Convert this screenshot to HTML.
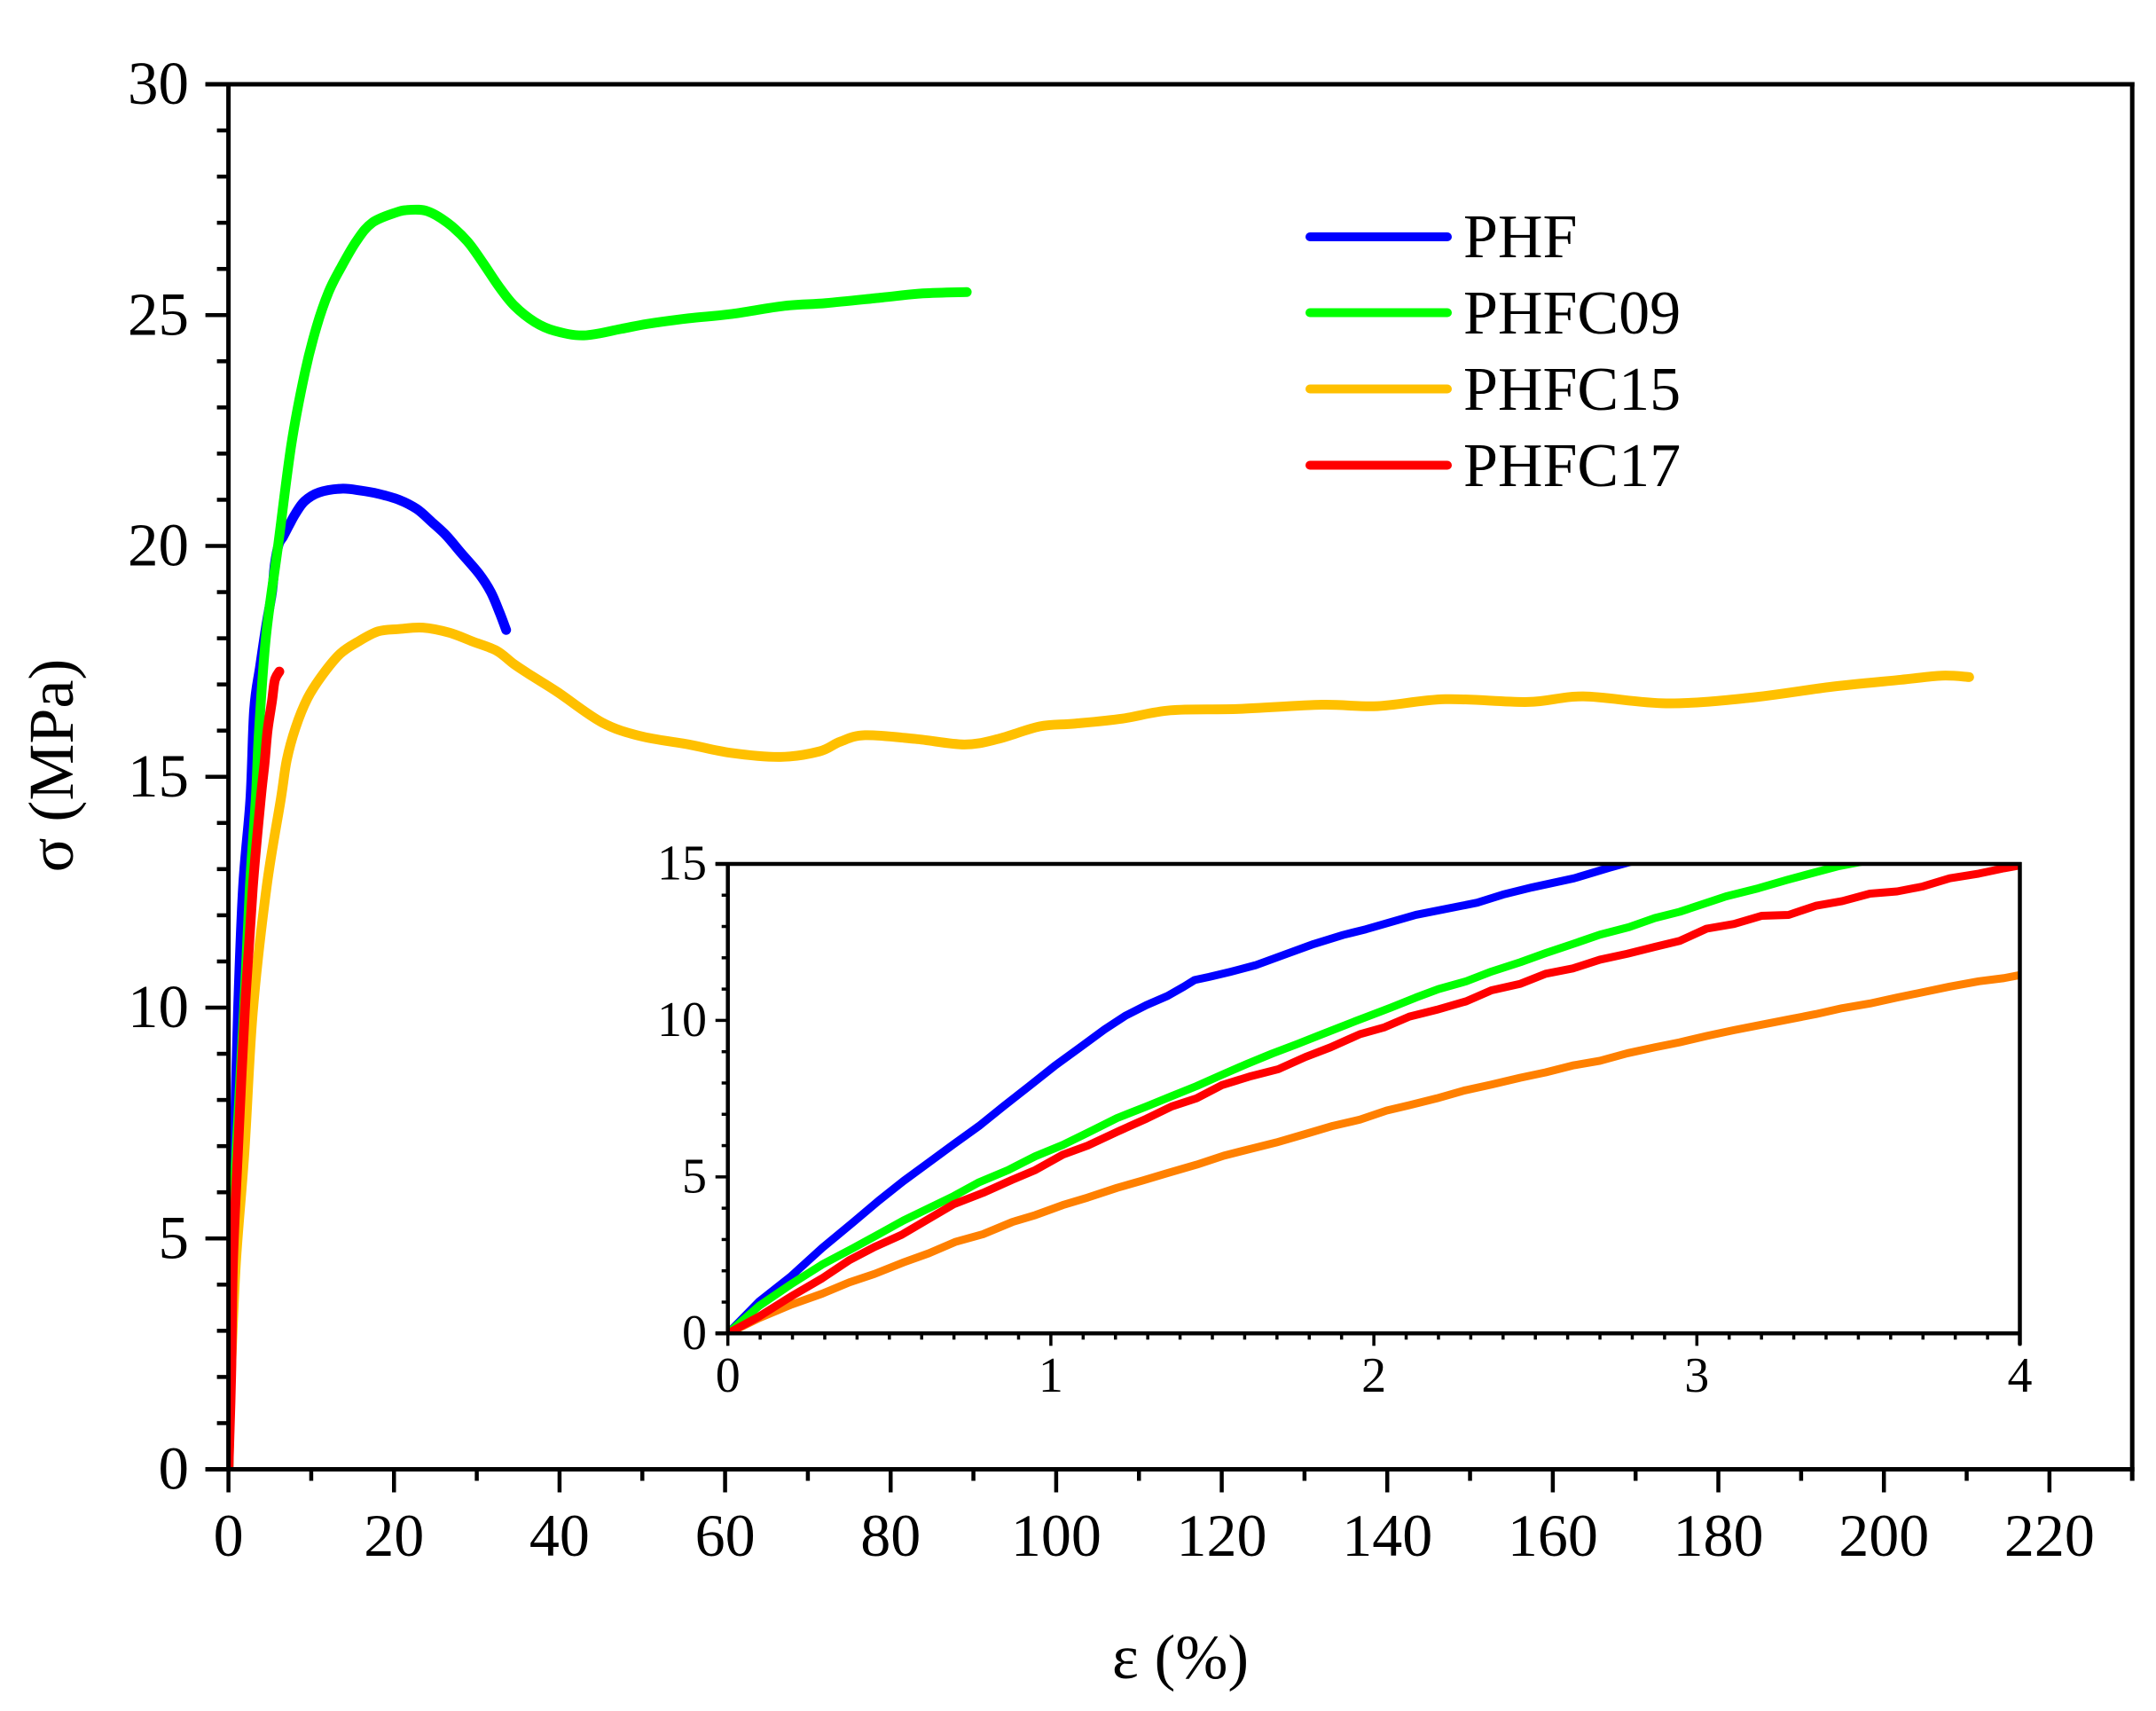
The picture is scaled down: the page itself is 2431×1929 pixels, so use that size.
<!DOCTYPE html>
<html lang="en">
<head>
<meta charset="utf-8">
<title>Stress-strain curves</title>
<style>
html,body{margin:0;padding:0;background:#fff;width:2431px;height:1929px;overflow:hidden}
svg{display:block}
text{font-family:"Liberation Serif","Times New Roman",serif;fill:#000}
</style>
</head>
<body>
<svg id="chart" xmlns="http://www.w3.org/2000/svg" width="2431" height="1929" viewBox="0 0 2431 1929">
  <defs>
    <clipPath id="main-clip"><rect id="main-clip-rect" x="0" y="0" width="0" height="0"></rect></clipPath>
    <clipPath id="inset-clip"><rect id="inset-clip-rect" x="0" y="0" width="0" height="0"></rect></clipPath>
  </defs>
  <rect x="0" y="0" width="2431" height="1929" fill="#fff"></rect>
  <g id="main-curves" clip-path="url(#main-clip)"></g>
  <g id="main-axes"></g>
  <g id="inset-curves" clip-path="url(#inset-clip)"></g>
  <g id="inset-axes"></g>
  <text x="1331" y="1892" font-size="71" text-anchor="middle">ε (%)</text>
  <text transform="translate(82,863) rotate(-90)" font-size="72" text-anchor="middle">σ (MPa)</text>
  <g>
    <line x1="1477" y1="267" x2="1632" y2="267" stroke="#0000ff" stroke-width="10" stroke-linecap="round"></line>
    <text x="1650" y="290" font-size="70">PHF</text>
    <line x1="1477" y1="352.5" x2="1632" y2="352.5" stroke="#00ff00" stroke-width="10" stroke-linecap="round"></line>
    <text x="1650" y="376" font-size="70">PHFC09</text>
    <line x1="1477" y1="438.5" x2="1632" y2="438.5" stroke="#ffc000" stroke-width="10" stroke-linecap="round"></line>
    <text x="1650" y="462" font-size="70">PHFC15</text>
    <line x1="1477" y1="524.5" x2="1632" y2="524.5" stroke="#ff0000" stroke-width="10" stroke-linecap="round"></line>
    <text x="1650" y="548" font-size="70">PHFC17</text>
  </g>
</svg>
<script>
// ----- main chart data -----
var mainXTicks = [0,20,40,60,80,100,120,140,160,180,200,220];
var mainXMinorTicks = [10,30,50,70,90,110,130,150,170,190,210,230];
var mainYTicks = [0,5,10,15,20,25,30];
var mainYMinorTicks = [1,2,3,4,6,7,8,9,11,12,13,14,16,17,18,19,21,22,23,24,26,27,28,29];

var mainPhfStrain = [0,0.44,0.72,1.15,1.76,2.65,3.1,3.83,4.54,5.26,5.6,6.08,6.6,7.33,8.1,9.2,10.97,13.65,15.97,18.1,20.6,22.76,24.55,26.3,28.1,30.26,31.7,32.75,33.55];
var mainPhfStress = [0,4.9,6.9,9.9,12.6,14.52,16.45,17.4,18.25,19.0,19.6,20.04,20.2,20.45,20.7,20.97,21.16,21.24,21.2,21.13,21.0,20.8,20.52,20.23,19.85,19.4,19.0,18.56,18.18];

var mainC09Strain = [0,0.47,0.97,1.86,2.58,3.3,3.69,4.54,5.97,7.6,9.23,10.65,12.1,13.5,15.45,17.36,20.2,21.9,24.05,26.45,28.85,30.75,32.67,34.55,37,39.4,42.95,47.4,50.6,55.6,60.6,67.2,72.2,78.9,83.9,89.2];
var mainC09Stress = [0,4.47,6.9,9.9,12.6,14.52,16.0,18.05,19.97,22.2,23.75,24.75,25.5,26.0,26.6,27.0,27.22,27.28,27.25,27.0,26.6,26.13,25.62,25.2,24.85,24.66,24.56,24.7,24.81,24.93,25.02,25.2,25.26,25.38,25.47,25.5];

var mainC15Strain = [0,0.3,0.9,1.94,2.94,4.6,6.33,7.04,8.1,9.55,11.33,13.47,15.6,18.1,20.6,23.5,26.7,29.5,32.4,34.5,36.7,39.8,45.1,49.8,55.6,60.6,66.7,71.4,73.9,76.9,83,88.9,93,98,102.2,108,113.8,122.1,132.1,138.8,147,157,163.7,173.7,183.7,193.7,202,207,210.3];
var mainC15Stress = [0,2.06,4.47,6.9,9.9,12.6,14.52,15.36,16.06,16.7,17.2,17.66,17.92,18.15,18.2,18.23,18.12,17.93,17.73,17.44,17.18,16.83,16.18,15.88,15.7,15.52,15.43,15.55,15.76,15.9,15.82,15.7,15.82,16.09,16.15,16.26,16.44,16.47,16.56,16.53,16.68,16.62,16.74,16.59,16.71,16.95,17.1,17.19,17.16];

var mainC17Strain = [0,0.33,0.54,1.15,1.97,2.94,3.9,4.36,4.72,5.26,5.6,6.15];
var mainC17Stress = [0,2.06,4.47,6.9,9.9,12.6,14.52,15.29,16.0,16.64,17.09,17.28];

// ----- inset data -----
var insetXTicks = [0,1,2,3,4];
var insetXMinorTicks = [0.1,0.2,0.3,0.4,0.5,0.6,0.7,0.8,0.9,1.1,1.2,1.3,1.4,1.5,1.6,1.7,1.8,1.9,2.1,2.2,2.3,2.4,2.5,2.6,2.7,2.8,2.9,3.1,3.2,3.3,3.4,3.5,3.6,3.7,3.8,3.9];
var insetYTicks = [0,5,10,15];
var insetYMinorTicks = [1,2,3,4,6,7,8,9,11,12,13,14];

var insetPhfStrain = [0,0.097,0.194,0.292,0.389,0.467,0.544,0.622,0.7,0.778,0.855,0.933,1.011,1.088,1.166,1.231,1.296,1.361,1.412,1.445,1.49,1.555,1.633,1.723,1.814,1.905,1.975,2.13,2.32,2.4,2.49,2.62,2.73,2.8];
var insetPhfStress = [0,1.02,1.81,2.73,3.56,4.24,4.87,5.46,6.05,6.63,7.27,7.9,8.54,9.12,9.71,10.15,10.49,10.78,11.08,11.29,11.39,11.55,11.76,12.1,12.44,12.73,12.91,13.37,13.76,14.02,14.25,14.54,14.88,15.08];

var insetC09Strain = [0,0.097,0.194,0.292,0.389,0.467,0.544,0.622,0.7,0.778,0.868,0.952,1.037,1.114,1.205,1.296,1.374,1.451,1.529,1.607,1.685,1.762,1.84,1.944,2.053,2.13,2.2,2.286,2.364,2.454,2.532,2.61,2.7,2.79,2.87,2.947,3.09,3.19,3.28,3.37,3.44,3.517];
var insetC09Stress = [0,0.88,1.56,2.2,2.73,3.17,3.61,4,4.39,4.83,5.22,5.66,6.02,6.41,6.88,7.25,7.58,7.9,8.26,8.61,8.94,9.24,9.56,9.98,10.41,10.73,11,11.25,11.56,11.86,12.15,12.42,12.74,12.98,13.27,13.47,13.96,14.22,14.49,14.74,14.93,15.08];

var insetC15Strain = [0,0.097,0.194,0.292,0.376,0.454,0.544,0.622,0.706,0.79,0.881,0.952,1.037,1.114,1.205,1.283,1.361,1.451,1.536,1.62,1.698,1.788,1.873,1.957,2.04,2.11,2.195,2.28,2.364,2.454,2.532,2.616,2.7,2.785,2.87,2.947,3.03,3.115,3.2,3.284,3.368,3.45,3.536,3.62,3.7,3.783,3.873,3.951,4];
var insetC15Stress = [0,0.49,0.91,1.27,1.63,1.9,2.27,2.56,2.93,3.17,3.56,3.78,4.1,4.34,4.65,4.88,5.12,5.39,5.68,5.9,6.1,6.37,6.63,6.83,7.12,7.29,7.51,7.76,7.95,8.17,8.34,8.56,8.71,8.95,9.14,9.3,9.5,9.69,9.86,10.03,10.2,10.39,10.54,10.73,10.9,11.08,11.25,11.35,11.45];

var insetC17Strain = [0,0.097,0.194,0.292,0.376,0.454,0.538,0.622,0.7,0.79,0.881,0.952,1.037,1.114,1.205,1.296,1.374,1.451,1.529,1.62,1.704,1.788,1.866,1.957,2.033,2.11,2.195,2.286,2.364,2.454,2.532,2.616,2.7,2.785,2.87,2.947,3.03,3.115,3.2,3.284,3.368,3.45,3.536,3.62,3.7,3.783,3.873,3.951,4];
var insetC17Stress = [0,0.54,1.17,1.76,2.34,2.76,3.15,3.66,4.13,4.49,4.91,5.22,5.71,6,6.44,6.86,7.25,7.51,7.93,8.22,8.44,8.83,9.14,9.56,9.78,10.12,10.34,10.61,10.96,11.17,11.49,11.66,11.94,12.13,12.35,12.54,12.93,13.08,13.34,13.37,13.66,13.81,14.05,14.12,14.28,14.54,14.69,14.86,14.95];

// ----- axis functions -----
function mainX(v){ return 257.6 + v * 9.333; }
function mainY(v){ return 1656.5 - v * 52.05; }
function insetX(v){ return 820.7 + v * 364.2; }
function insetY(v){ return 1503.3 - v * 35.29; }

var NS = 'http://www.w3.org/2000/svg';
function svgEl(tag, parent){
  var el = document.createElementNS(NS, tag);
  parent.appendChild(el);
  return el;
}
function drawLine(parent, x1, y1, x2, y2, w){
  var el = svgEl('line', parent);
  el.setAttribute('x1', x1);
  el.setAttribute('y1', y1);
  el.setAttribute('x2', x2);
  el.setAttribute('y2', y2);
  el.setAttribute('stroke', '#000');
  el.setAttribute('stroke-width', w);
  return el;
}
function drawLabel(parent, x, y, str, size, anchor){
  var el = svgEl('text', parent);
  el.setAttribute('x', x);
  el.setAttribute('y', y);
  el.setAttribute('font-size', size);
  el.setAttribute('text-anchor', anchor);
  el.textContent = str;
  return el;
}
function drawCurve(parent, xs, ys, fx, fy, color, w, smooth){
  var pts = [];
  for (var i = 0; i < xs.length; i++) {
    pts.push([fx(xs[i]), fy(ys[i])]);
  }
  var d = 'M' + pts[0][0].toFixed(2) + ' ' + pts[0][1].toFixed(2);
  for (var j = 1; j < pts.length; j++) {
    if (smooth) {
      var p0 = pts[Math.max(j - 2, 0)], p1 = pts[j - 1], p2 = pts[j], p3 = pts[Math.min(j + 1, pts.length - 1)];
      var c1x = p1[0] + (p2[0] - p0[0]) / 6, c1y = p1[1] + (p2[1] - p0[1]) / 6;
      var c2x = p2[0] - (p3[0] - p1[0]) / 6, c2y = p2[1] - (p3[1] - p1[1]) / 6;
      d += 'C' + c1x.toFixed(2) + ' ' + c1y.toFixed(2) + ' ' + c2x.toFixed(2) + ' ' + c2y.toFixed(2) + ' ' + p2[0].toFixed(2) + ' ' + p2[1].toFixed(2);
    } else {
      d += 'L' + pts[j][0].toFixed(2) + ' ' + pts[j][1].toFixed(2);
    }
  }
  var el = svgEl('path', parent);
  el.setAttribute('d', d);
  el.setAttribute('fill', 'none');
  el.setAttribute('stroke', color);
  el.setAttribute('stroke-width', w);
  el.setAttribute('stroke-linejoin', 'round');
  el.setAttribute('stroke-linecap', 'round');
  return el;
}

var mx0 = mainX(0), mx1 = mainX(230), my0 = mainY(0), my1 = mainY(30);
var mainClipRect = document.getElementById('main-clip-rect');
mainClipRect.setAttribute('x', mx0);
mainClipRect.setAttribute('y', my1);
mainClipRect.setAttribute('width', mx1 - mx0);
mainClipRect.setAttribute('height', my0 - my1);

// ----- main curves -----
var mainCurves = document.getElementById('main-curves');
var curve;
curve = drawCurve(mainCurves, mainPhfStrain, mainPhfStress, mainX, mainY, '#0000ff', 11, true);


curve = drawCurve(mainCurves, mainC15Strain, mainC15Stress, mainX, mainY, '#ffc000', 11, true);


curve = drawCurve(mainCurves, mainC09Strain, mainC09Stress, mainX, mainY, '#00ff00', 11, true);


curve = drawCurve(mainCurves, mainC17Strain, mainC17Stress, mainX, mainY, '#ff0000', 11, true);



// ----- main axes -----
var mainAxes = document.getElementById('main-axes');
var item;
item = drawLine(mainAxes, mx0, my1, mx0, my0, 5);


item = drawLine(mainAxes, mx1, my1 - 2.5, mx1, my0 + 13, 5);


item = drawLine(mainAxes, mx0 - 26, my0, mx1 + 2.5, my0, 5);


item = drawLine(mainAxes, mx0 - 26, my1, mx1 + 2.5, my1, 5);


mainXTicks.forEach(function(v){
  var t = drawLine(mainAxes, mainX(v), my0, mainX(v), my0 + 26, 4.5);
  
  
  var l = drawLabel(mainAxes, mainX(v), 1754, String(v), 68, 'middle');
  
  
});
mainXMinorTicks.forEach(function(v){
  var t = drawLine(mainAxes, mainX(v), my0, mainX(v), my0 + 13, 4.5);
  
  
});
mainYTicks.forEach(function(v){
  var t = drawLine(mainAxes, mx0 - 26, mainY(v), mx0, mainY(v), 4.5);
  
  
  var l = drawLabel(mainAxes, 213, mainY(v) + 22, String(v), 69, 'end');
  
  
});
mainYMinorTicks.forEach(function(v){
  var t = drawLine(mainAxes, mx0 - 13, mainY(v), mx0, mainY(v), 4.5);
  
  
});

// ----- inset curves -----
var ix0 = insetX(0), ix1 = insetX(4), iy0 = insetY(0), iy1 = insetY(15);
var clipRect = document.getElementById('inset-clip-rect');
clipRect.setAttribute('x', ix0);
clipRect.setAttribute('y', iy1);
clipRect.setAttribute('width', ix1 - ix0);
clipRect.setAttribute('height', iy0 - iy1);
var insetCurves = document.getElementById('inset-curves');
curve = drawCurve(insetCurves, insetPhfStrain, insetPhfStress, insetX, insetY, '#0000ff', 9, false);


curve = drawCurve(insetCurves, insetC15Strain, insetC15Stress, insetX, insetY, '#ff8000', 9, false);


curve = drawCurve(insetCurves, insetC09Strain, insetC09Stress, insetX, insetY, '#00ff00', 9, false);


curve = drawCurve(insetCurves, insetC17Strain, insetC17Stress, insetX, insetY, '#ff0000', 9, false);



// ----- inset axes -----
var insetAxes = document.getElementById('inset-axes');
item = drawLine(insetAxes, ix0, iy1, ix0, iy0, 4.5);


item = drawLine(insetAxes, ix1, iy1 - 2, ix1, iy0 + 13, 4.5);


item = drawLine(insetAxes, ix0 - 14, iy0, ix1 + 2, iy0, 4.5);


item = drawLine(insetAxes, ix0 - 14, iy1, ix1 + 2, iy1, 4.5);


insetXTicks.forEach(function(v){
  var t = drawLine(insetAxes, insetX(v), iy0, insetX(v), iy0 + 14, 3.5);
  
  
  var l = drawLabel(insetAxes, insetX(v), 1569, String(v), 56, 'middle');
  
  
});
insetXMinorTicks.forEach(function(v){
  var t = drawLine(insetAxes, insetX(v), iy0, insetX(v), iy0 + 7, 3.5);
  
  
});
insetYTicks.forEach(function(v){
  var t = drawLine(insetAxes, ix0 - 14, insetY(v), ix0, insetY(v), 3.5);
  
  
  var l = drawLabel(insetAxes, 797, insetY(v) + 17.5, String(v), 56, 'end');
  
  
});
insetYMinorTicks.forEach(function(v){
  var t = drawLine(insetAxes, ix0 - 7, insetY(v), ix0, insetY(v), 3.5);
  
  
});
</script>
</body>
</html>
